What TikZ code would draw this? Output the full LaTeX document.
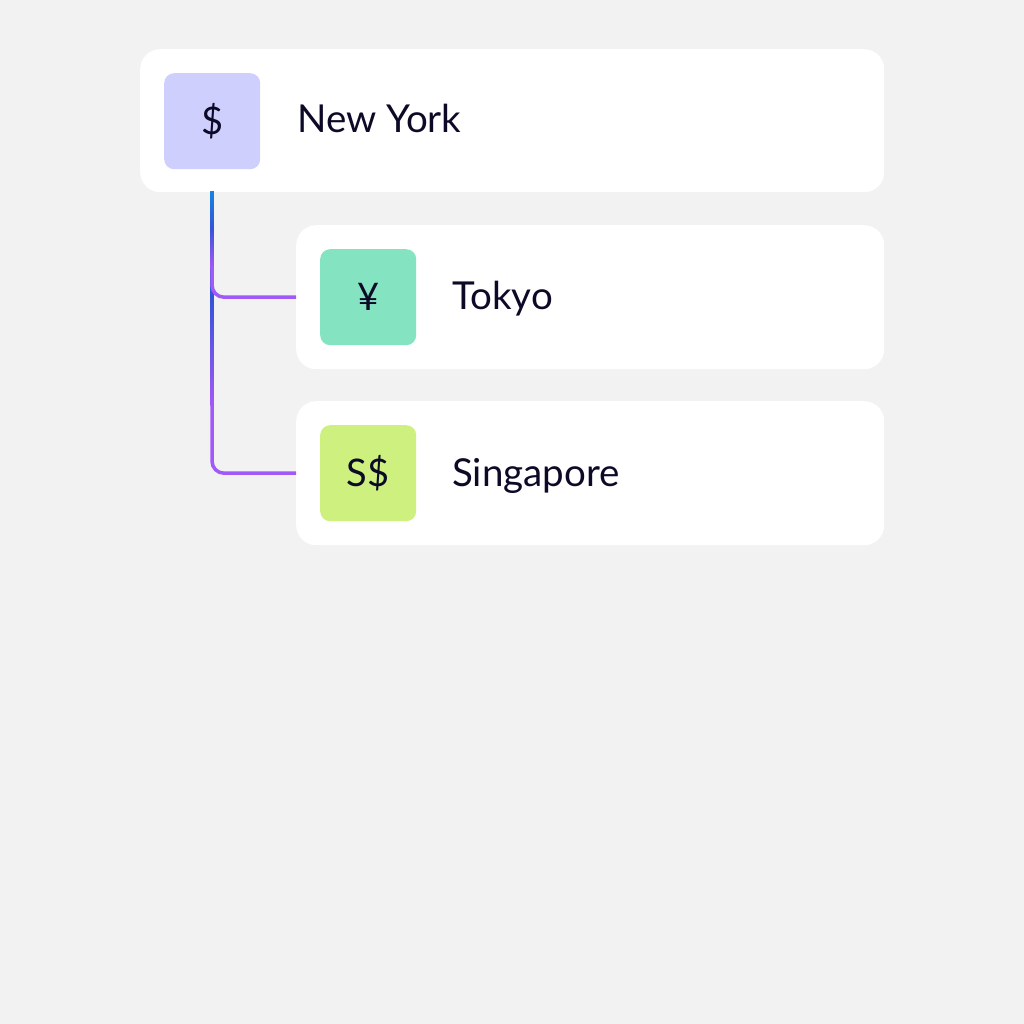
\documentclass[tikz,border=0pt]{standalone}
\usepackage{fontspec}
\setmainfont{Lato}
\definecolor{bg}{HTML}{F1F2F1}
\definecolor{ink}{HTML}{0C0A26}
\definecolor{lav}{HTML}{CFCFFD}
\definecolor{mint}{HTML}{84E3C0}
\definecolor{lime}{HTML}{CDF07E}
\definecolor{cblue}{HTML}{1683E0}
\definecolor{cindigo}{HTML}{3553D8}
\definecolor{cpurple}{HTML}{A259F7}
\begin{document}
\begin{tikzpicture}[x=1pt,y=-1pt,
  card/.style={fill=white, rounded corners=20pt, inner sep=0pt, anchor=north west},
  iconbox/.style={rounded corners=10pt, inner sep=0pt, minimum size=96pt, anchor=north west,
    text=ink, font=\fontsize{38}{42}\selectfont, text height=27pt, text depth=0pt},
  lbl/.style={anchor=base west, inner sep=0pt, text=ink, font=\fontsize{38.5}{42}\selectfont},
  conn/.style={draw=cpurple, line width=3.5pt, rounded corners=12pt}]
\useasboundingbox (0,0) rectangle (1024,1024);
\fill[bg] (0,0) rectangle (1024,1024);

% cards
\node[card, minimum width=744pt, minimum height=143pt] (root) at (140,49) {};
\node[card, minimum width=588pt, minimum height=144pt] (tokyo) at (296,225) {};
\node[card, minimum width=588pt, minimum height=144pt] (sing) at (296,401) {};

% icons
\node[iconbox, fill=lav] (rooticon) at (164,73) {\$};
\node[iconbox, fill=mint] (tokyoicon) at (320,249) {¥};
\node[iconbox, fill=lime] (singicon) at (320,425) {S\$};

% labels
\node[lbl] (rootlbl) at (297,133) {New York};
\node[lbl] (tokyolbl) at (452,309) {Tokyo};
\node[lbl] (singlbl) at (452,486) {Singapore};

% connectors
\coordinate (stem) at (212,192);
\draw[conn] (stem) |- (sing.west);
\shade[top color=cblue, bottom color=cindigo] (210.25,192) rectangle (213.75,298);
\shade[top color=cindigo, bottom color=cpurple] (210.25,298) rectangle (213.75,405);

\draw[conn] (stem) |- (tokyo.west);
\shade[top color=cblue, bottom color=cindigo] (210.25,192) rectangle (213.75,228);
\shade[top color=cindigo, bottom color=cpurple] (210.25,228) rectangle (213.75,268);
\end{tikzpicture}
\end{document}
